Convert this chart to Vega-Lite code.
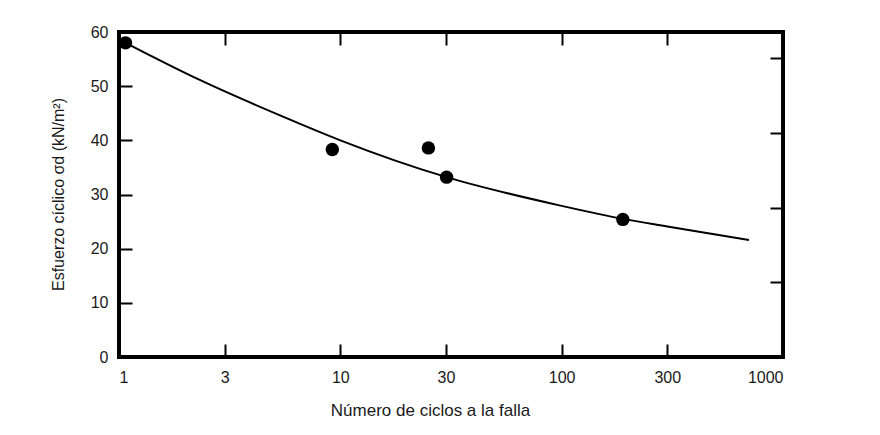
{
  "$schema": "https://vega.github.io/schema/vega-lite/v6.json",
  "autosize": "none",
  "width": 664,
  "height": 325,
  "padding": {"left": 119, "top": 32, "right": 97, "bottom": 78},
  "background": "white",
  "config": {
    "font": "Liberation Sans",
    "view": {"stroke": "black", "strokeWidth": 4},
    "axis": {
      "domain": false,
      "grid": false,
      "tickColor": "black",
      "tickWidth": 2,
      "tickSize": -13,
      "labelFont": "Liberation Sans",
      "labelFontSize": 16,
      "labelColor": "#1a1a1a",
      "titleFont": "Liberation Sans",
      "titleFontSize": 16,
      "titleFontWeight": "normal",
      "titleColor": "#1a1a1a"
    }
  },
  "datasets": {
    "ensayos": [
      {"ciclos": 1.07, "esfuerzo": 58.0},
      {"ciclos": 9.2, "esfuerzo": 38.3},
      {"ciclos": 25, "esfuerzo": 38.6},
      {"ciclos": 30.2, "esfuerzo": 33.2},
      {"ciclos": 189, "esfuerzo": 25.4}
    ],
    "ajuste": [
      {"ciclos": 1.07, "esfuerzo": 58.0},
      {"ciclos": 2.33, "esfuerzo": 51.1},
      {"ciclos": 5.34, "esfuerzo": 44.6},
      {"ciclos": 10, "esfuerzo": 40.0},
      {"ciclos": 30.2, "esfuerzo": 33.2},
      {"ciclos": 100, "esfuerzo": 27.9},
      {"ciclos": 189, "esfuerzo": 25.5},
      {"ciclos": 300, "esfuerzo": 24.1},
      {"ciclos": 702, "esfuerzo": 21.6}
    ]
  },
  "layer": [
    {
      "data": {"name": "ajuste"},
      "mark": {"type": "line", "color": "black", "strokeWidth": 2, "interpolate": "monotone", "clip": true},
      "encoding": {
        "x": {
          "field": "ciclos",
          "type": "quantitative",
          "scale": {"type": "log", "domain": [1, 1000], "nice": false},
          "axis": {
            "orient": "bottom",
            "values": [1, 3, 10, 30, 100, 300, 1000],
            "format": "d",
            "labelPadding": 25,
            "title": "Número de ciclos a la falla",
            "titleFontSize": 17,
            "titleX": 311,
            "titleY": 53,
            "titleAlign": "center",
            "titleBaseline": "middle"
          }
        },
        "y": {
          "field": "esfuerzo",
          "type": "quantitative",
          "scale": {"domain": [0, 60], "nice": false, "zero": true},
          "axis": {
            "orient": "left",
            "values": [0, 10, 20, 30, 40, 50, 60],
            "labelPadding": 24,
            "title": "Esfuerzo cíclico σd (kN/m²)",
            "titleX": -61,
            "titleY": 162,
            "titleAngle": -90,
            "titleAlign": "center",
            "titleBaseline": "middle"
          }
        }
      }
    },
    {
      "data": {"name": "ensayos"},
      "mark": {"type": "circle", "color": "black", "opacity": 1, "size": 180},
      "encoding": {
        "x": {
          "field": "ciclos",
          "type": "quantitative",
          "axis": {"orient": "top", "values": [3, 10, 30, 100, 300], "labels": false, "title": null}
        },
        "y": {
          "field": "esfuerzo",
          "type": "quantitative",
          "axis": {"orient": "right", "values": [13.79, 27.58, 41.37, 55.16], "labels": false, "title": null}
        }
      }
    }
  ],
  "resolve": {"axis": {"x": "independent", "y": "independent"}}
}
